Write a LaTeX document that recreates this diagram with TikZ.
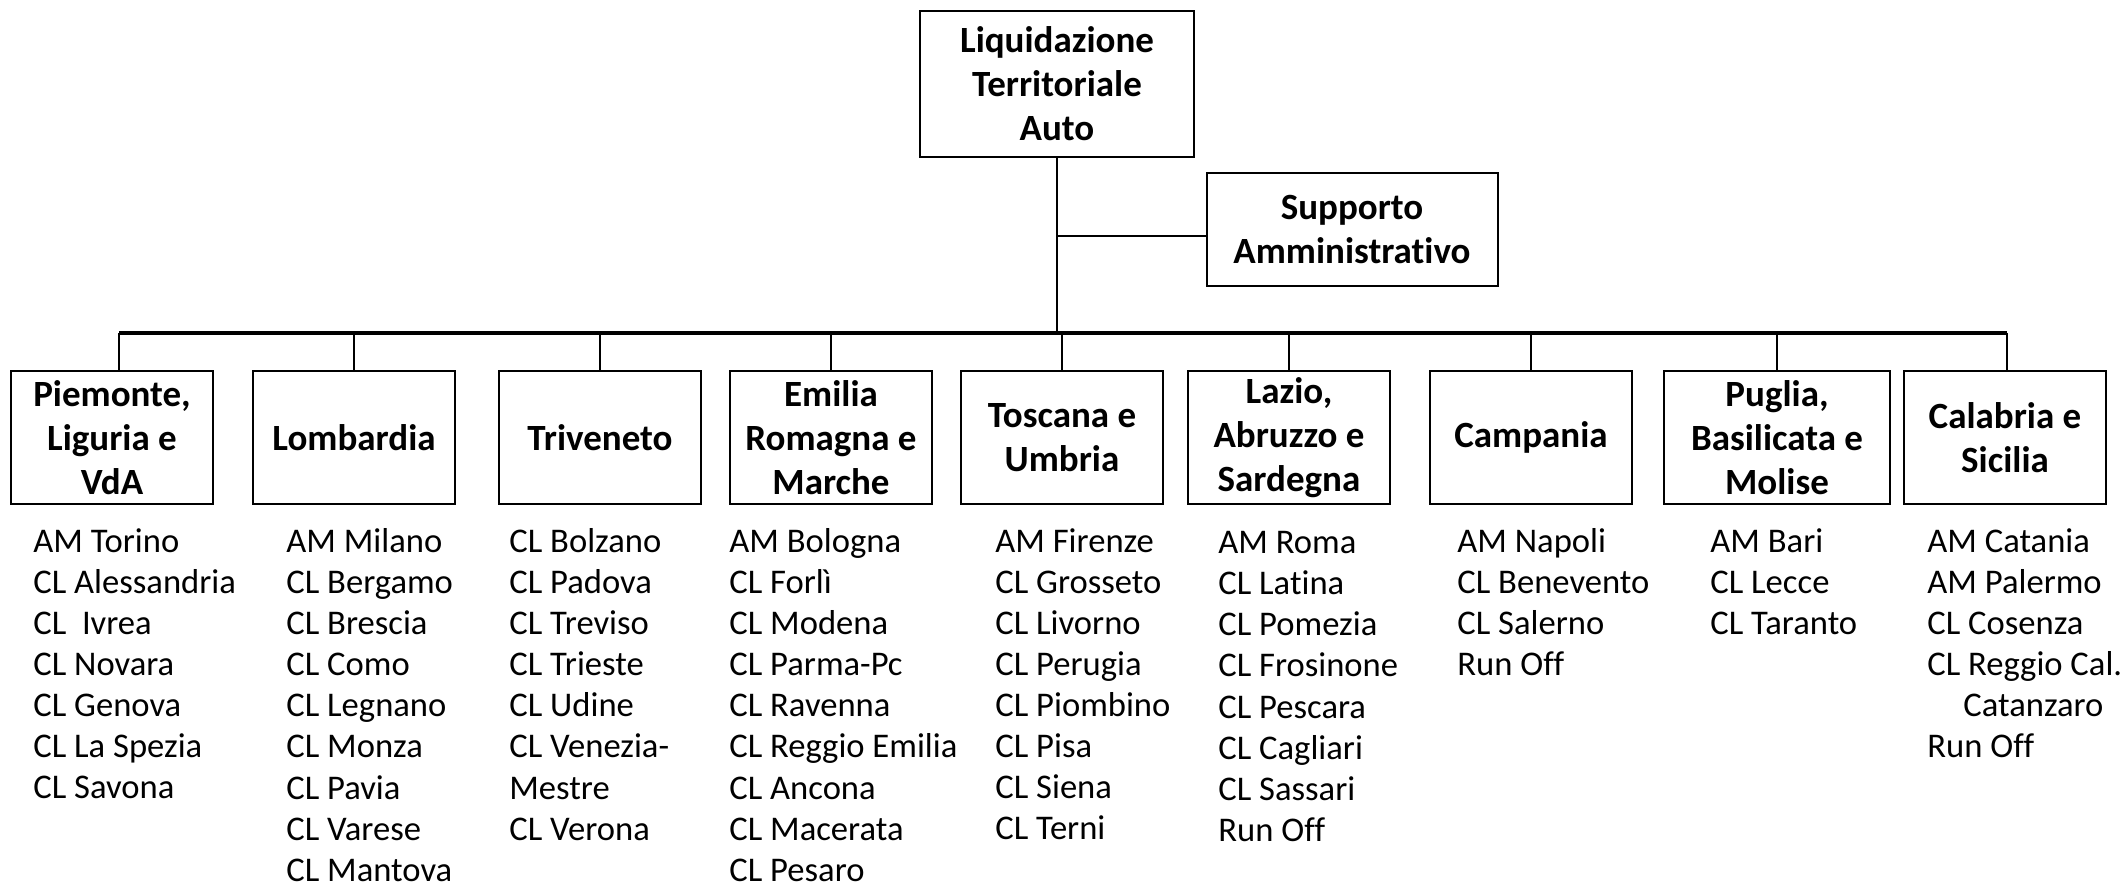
\documentclass[tikz,border=0pt]{standalone}
\usepackage{fontspec}
\setmainfont{Carlito}[Ligatures=NoCommon]
\usetikzlibrary{positioning}

\tikzset{
  head/.style={draw,line width=1pt,align=center,inner sep=2pt,
    font=\fontsize{18.5}{22}\selectfont\bfseries},
  region/.style={head,minimum width=101pt,minimum height=66.5pt},
  office/.style={align=left,anchor=north west,inner sep=0pt,
    font=\fontsize{17.3}{20.55}\selectfont},
  link/.style={line width=1.2pt},
  bus/.style={line width=1.6pt}
}

\begin{document}
\begin{tikzpicture}[x=0.5pt,y=-0.5pt]
  \useasboundingbox (0,0) rectangle (2125,886);

  % direzione
  \node[head,minimum width=137pt,minimum height=73pt] (lta) at (1057,84) {Liquidazione\\Territoriale\\Auto};
  \node[head,minimum width=145.5pt,minimum height=56.5pt] (supp) at (1352,230) {Supporto\\Amministrativo};

  % aree territoriali
  \node[region] (piem) at (112,437.5) {Piemonte,\\Liguria e\\VdA};
  \node[region] (lomb) at (354,437.5) {Lombardia};
  \node[region] (trive) at (600,437.5) {Triveneto};
  \node[region] (emil) at (831,437.5) {Emilia\\Romagna e\\Marche};
  \node[region] (tosc) at (1062,437.5) {Toscana e\\Umbria};
  \node[region] (lazio) at (1289,437.5) {Lazio,\\Abruzzo e\\Sardegna};
  \node[region] (camp) at (1531,437.5) {Campania};
  \node[region,minimum width=113pt] (pugl) at (1777,437.5) {Puglia,\\Basilicata e\\Molise};
  \node[region] (cala) at (2005,437.5) {Calabria e\\Sicilia};

  % sedi
  \node[office] (lpiem) at (33,528) {AM Torino\\CL Alessandria\\CL\ \ Ivrea\\CL Novara\\CL Genova\\CL La Spezia\\CL Savona};
  \node[office] (llomb) at (286,528) {AM Milano\\CL Bergamo\\CL Brescia\\CL Como\\CL Legnano\\CL Monza\\CL Pavia\\CL Varese\\CL Mantova};
  \node[office] (ltrive) at (509,528) {CL Bolzano\\CL Padova\\CL Treviso\\CL Trieste\\CL Udine\\CL Venezia-\\Mestre\\CL Verona};
  \node[office] (lemil) at (729,528) {AM Bologna\\CL Forlì\\CL Modena\\CL Parma-Pc\\CL Ravenna\\CL Reggio Emilia\\CL Ancona\\CL Macerata\\CL Pesaro};
  \node[office] (ltosc) at (995,528) {AM Firenze\\CL Grosseto\\CL Livorno\\CL Perugia\\CL Piombino\\CL Pisa\\CL Siena\\CL Terni};
  \node[office] (llazio) at (1218,531) {AM Roma\\CL Latina\\CL Pomezia\\CL Frosinone\\CL Pescara\\CL Cagliari\\CL Sassari\\Run Off};
  \node[office] (lcamp) at (1457,528) {AM Napoli\\CL Benevento\\CL Salerno\\Run Off};
  \node[office] (lpugl) at (1710,528) {AM Bari\\CL Lecce\\CL Taranto};
  \node[office] (lcala) at (1927,528) {AM Catania\\AM Palermo\\CL Cosenza\\CL Reggio Cal.\\\hspace*{18pt}Catanzaro\\Run Off};

  % collegamenti
  \coordinate (busL) at (119,333);
  \coordinate (busR) at (2007,333);
  \draw[bus] (busL) -- (busR);
  \draw[link] (lta.south) -- (lta.south |- busL);
  \draw[link] ([yshift=-3pt]supp.west) -- ([yshift=-3pt]supp.west -| lta.south);
  \draw[link] (busL) -- (busL |- piem.north);
  \draw[link] (lomb.north) -- (lomb.north |- busL);
  \draw[link] (trive.north) -- (trive.north |- busL);
  \draw[link] (emil.north) -- (emil.north |- busL);
  \draw[link] (tosc.north) -- (tosc.north |- busL);
  \draw[link] (lazio.north) -- (lazio.north |- busL);
  \draw[link] (camp.north) -- (camp.north |- busL);
  \draw[link] (pugl.north) -- (pugl.north |- busL);
  \draw[link] (busR) -- (busR |- cala.north);
\end{tikzpicture}
\end{document}
